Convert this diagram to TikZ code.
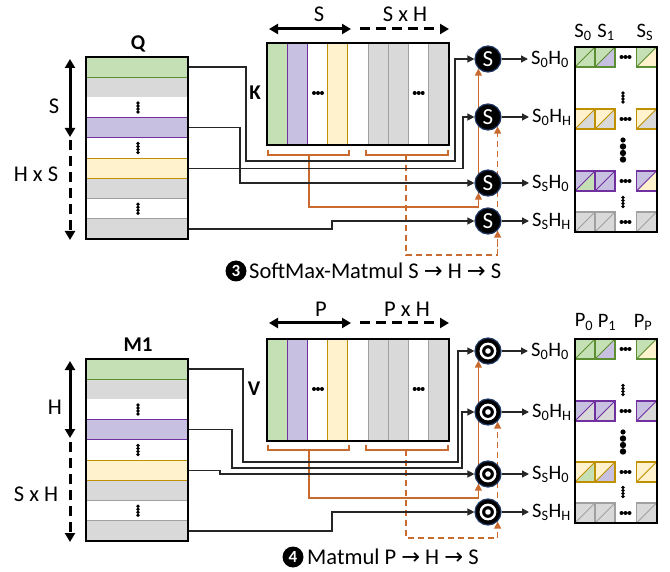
\documentclass[tikz,border=0pt]{standalone}
\usepackage{fontspec}
\setmainfont{Carlito}
\newfontfamily\djv{DejaVu Sans}
\usetikzlibrary{arrows.meta}
\pgfdeclarelayer{bg}
\pgfsetlayers{bg,main}
\definecolor{gfill}{HTML}{C5E0B4}
\definecolor{gline}{HTML}{5B8F32}
\definecolor{pfill}{HTML}{C8C0E0}
\definecolor{pline}{HTML}{7030A0}
\definecolor{yfill}{HTML}{FFF2CC}
\definecolor{yline}{HTML}{BF9000}
\definecolor{rfill}{HTML}{D9D9D9}
\definecolor{rline}{HTML}{A0A0A0}
\definecolor{orc}{HTML}{C96A2E}
\definecolor{navy}{HTML}{1F3864}
\newcommand\dotsV[2]{\fill (#1,#2-4.5) circle (1.9) (#1,#2-1.5) circle (1.9) (#1,#2+1.5) circle (1.9) (#1,#2+4.5) circle (1.9);}
\newcommand\dotsH[2]{\fill (#1-4,#2) circle (2) (#1,#2) circle (2) (#1+4,#2) circle (2);}
\newcommand\dotsB[2]{\fill (#1,#2-10) circle (2.6) (#1,#2-3.5) circle (3.2) (#1,#2+3) circle (3.2) (#1,#2+9.5) circle (3.2);}
\newcommand\gcell[5]{%
  \fill[#3] (#1,#2) -- (#1+20,#2) -- (#1,#2+20) -- cycle;
  \fill[#4] (#1+20,#2) -- (#1+20,#2+20) -- (#1,#2+20) -- cycle;
  \draw[#5,line width=0.8pt] (#1,#2+20) -- (#1+20,#2);
  \draw[#5,line width=1.5pt] (#1,#2) rectangle (#1+20,#2+20);}
\newcommand\grow[6]{%
  \gcell{575}{#1}{#3}{#4}{#2}\gcell{595}{#1}{#3}{#5}{#2}\gcell{636.5}{#1}{#3}{#6}{#2}
  \dotsH{625.5}{#1+10}}
\tikzset{
  rowbox/.style={rectangle,inner sep=0pt,outer sep=0pt,minimum width=102pt,minimum height=20.22pt,anchor=north west,line width=1pt},
  colbox/.style={rectangle,inner sep=0pt,outer sep=0pt,minimum width=20.22pt,minimum height=102pt,anchor=north west,line width=1pt},
  gr/.style={fill=gfill,draw=gline},
  pu/.style={fill=pfill,draw=pline},
  ye/.style={fill=yfill,draw=yline},
  gy/.style={fill=rfill,draw=rline},
  wh/.style={fill=white},
  mframe/.style={draw=black,line width=2.2pt},
  conn/.style={draw=black!85,line width=1.3pt},
  atip/.style={-{Triangle[length=7pt,width=7pt]}},
  orl/.style={draw=orc,line width=1.3pt},
  odash/.style={dash pattern=on 6pt off 4pt},
  dimline/.style={line width=3pt},
  ddash/.style={dash pattern=on 10pt off 6pt},
  dtip/.style={-{Triangle[length=9pt,width=10pt]}},
  dtips/.style={{Triangle[length=9pt,width=10pt]}-{Triangle[length=9pt,width=10pt]}},
  sc/.style={circle,fill=black,draw=navy,line width=1.2pt,minimum size=26pt,inner sep=0pt,text=white,font=\fontsize{23}{23}\selectfont},
  tc/.style={circle,fill=black,draw=navy,line width=1.2pt,minimum size=26pt,inner sep=0pt},
  lab/.style={font=\fontsize{22.5}{24}\selectfont,inner sep=0pt},
  blab/.style={font=\fontsize{21}{24}\selectfont\bfseries,inner sep=0pt},
  olab/.style={font=\fontsize{20.5}{22}\selectfont,inner sep=3pt,anchor=west},
  hdr/.style={font=\fontsize{20.5}{22}\selectfont,inner sep=0pt},
  numc/.style={circle,fill=black,text=white,minimum size=21pt,inner sep=0pt,font=\fontsize{17}{17}\selectfont\bfseries},
  captxt/.style={font=\fontsize{22.5}{24}\selectfont,inner sep=0pt,anchor=west},
}
\begin{document}
\begin{tikzpicture}[x=1pt,y=-1pt]
\useasboundingbox (0,0) rectangle (670,572);
%% ================= TOP PANEL =================
\node[rowbox,gy] (q2) at (86,77.22) {};
\node[rowbox,wh] (q3) at (86,97.44) {};
\node[rowbox,wh] (q5) at (86,137.89) {};
\node[rowbox,gy] (q7) at (86,178.33) {};
\node[rowbox,wh] (q8) at (86,198.56) {};
\node[rowbox,gy] (q9) at (86,218.78) {};
\node[rowbox,gr] (q1) at (86,57) {};
\node[rowbox,pu] (q4) at (86,117.67) {};
\node[rowbox,ye] (q6) at (86,158.11) {};
\draw[mframe] (q1.north west) rectangle (q9.south east);
\dotsV{138}{107.5}\dotsV{138}{148}\dotsV{138}{208.7}
\node[blab] (ql) at (138,44) {Q};
\node[lab] (sl) at (54,106) {S};
\node[lab] (hsl) at (36,174) {H x S};
\draw[dimline,dtips] (70,59) -- (70,137);
\draw[dimline,ddash,dtip] (70,140) -- (70,240);
% K matrix
\node[colbox,wh] (k3) at (307.44,43) {};
\node[colbox,wh] (k5) at (347.89,43) {};
\node[colbox,gy] (k6) at (368.11,43) {};
\node[colbox,gy] (k7) at (388.33,43) {};
\node[colbox,wh] (k8) at (408.56,43) {};
\node[colbox,gy] (k9) at (428.78,43) {};
\node[colbox,gr] (k1) at (267,43) {};
\node[colbox,pu] (k2) at (287.22,43) {};
\node[colbox,ye] (k4) at (327.67,43) {};
\draw[mframe] (k1.north west) rectangle (k9.south east);
\dotsH{318}{93}\dotsH{418.7}{93}
\node[blab] (kl) at (255,93) {K};
\node[lab] (ksl) at (319,14) {S};
\node[lab] (kshl) at (405,14) {S x H};
\draw[dimline,dtips] (269,29) -- (351,29);
\draw[dimline,ddash,dtip] (360,29) -- (449,29);
\draw[orl] (268,150) -- (268,155) -- (349,155) -- (349,150);
\draw[orl] (366,150) -- (366,155) -- (448,155) -- (448,150);
\coordinate (kb1) at (309,155);
\coordinate (kb2) at (406,155);
\coordinate (ko1) at (309,207);
\coordinate (kd1) at (406,255);
\node[sc] (s1) at (488,59) {S};
\node[sc] (s2) at (488,117) {S};
\node[sc] (s3) at (488,183) {S};
\node[sc] (s4) at (488,221) {S};
\node[olab] (o1) at (528,59) {S\textsubscript{0}H\textsubscript{0}};
\node[olab] (o2) at (529,117) {S\textsubscript{0}H\textsubscript{H}};
\node[olab] (o3) at (529,183) {S\textsubscript{S}H\textsubscript{0}};
\node[olab] (o4) at (529,221) {S\textsubscript{S}H\textsubscript{H}};
\foreach \a/\b in {s1/o1,s2/o2,s3/o3,s4/o4} \draw[conn,atip] (\a) -- (\b);
\begin{pgfonlayer}{bg}
\draw[orl,atip] (kb1) -- (ko1) -| (s1.south west);
\draw[orl,atip] (ko1 -| s3.south west) -- (s3.south west);
\draw[orl,odash,atip] (kb2) -- (kd1) -| (s2.south east);
\draw[orl,odash,atip] (kd1 -| s4.south east) -- (s4.south east);
\draw[conn,atip] (q1.east) -| (246,161) -| (455,59) -- (s1.west);
\draw[conn,atip] (q6.east) -| (463,117) -- (s2.west);
\draw[conn,atip] (q4.east) -| (240,183) -- (s3.west);
\draw[conn,atip] (q9.east) -| (332,221) -- (s4.west);
\end{pgfonlayer}
\grow{47}{gline}{gfill}{gfill}{pfill}{yfill}
\grow{109}{yline}{yfill}{rfill}{rfill}{rfill}
\grow{171}{pline}{pfill}{gfill}{pfill}{yfill}
\grow{212}{rline}{rfill}{rfill}{rfill}{rfill}
\draw[mframe] (575,47) rectangle (657,232);
\dotsV{623}{97.5}\dotsB{623}{150}\dotsV{623}{202}
\node[hdr] (h0) at (583,32) {S\textsubscript{0}};
\node[hdr] (h1) at (606,32) {S\textsubscript{1}};
\node[hdr] (h2) at (645,32) {S\textsubscript{S}};
\node[numc] (c3) at (236,271) {3};
\node[captxt] (cap3) at (249,271) {SoftMax-Matmul S {\djv →} H {\djv →} S};
%% ================= BOTTOM PANEL =================
\node[rowbox,gy] (m2) at (86,379.22) {};
\node[rowbox,wh] (m3) at (86,399.44) {};
\node[rowbox,wh] (m5) at (86,439.89) {};
\node[rowbox,gy] (m7) at (86,480.33) {};
\node[rowbox,wh] (m8) at (86,500.56) {};
\node[rowbox,gy] (m9) at (86,520.78) {};
\node[rowbox,gr] (m1) at (86,359) {};
\node[rowbox,pu] (m4) at (86,419.67) {};
\node[rowbox,ye] (m6) at (86,460.11) {};
\draw[mframe] (m1.north west) rectangle (m9.south east);
\dotsV{138}{409.5}\dotsV{138}{450}\dotsV{138}{510.7}
\node[blab] (ml) at (138,345) {M1};
\node[lab] (hl) at (55,407) {H};
\node[lab] (shl) at (36,494) {S x H};
\draw[dimline,dtips] (70,361) -- (70,438);
\draw[dimline,ddash,dtip] (70,442) -- (70,542);
\node[colbox,wh] (v3) at (307.44,339) {};
\node[colbox,wh] (v5) at (347.89,339) {};
\node[colbox,gy] (v6) at (368.11,339) {};
\node[colbox,gy] (v7) at (388.33,339) {};
\node[colbox,wh] (v8) at (408.56,339) {};
\node[colbox,gy] (v9) at (428.78,339) {};
\node[colbox,gr] (v1) at (267,339) {};
\node[colbox,pu] (v2) at (287.22,339) {};
\node[colbox,ye] (v4) at (327.67,339) {};
\draw[mframe] (v1.north west) rectangle (v9.south east);
\dotsH{318}{389}\dotsH{418.7}{389}
\node[blab] (vl) at (254,389) {V};
\node[lab] (pl) at (321,309) {P};
\node[lab] (phl) at (407,309) {P x H};
\draw[dimline,dtips] (269,323) -- (351,323);
\draw[dimline,ddash,dtip] (360,323) -- (449,323);
\draw[orl] (268,445) -- (268,450) -- (349,450) -- (349,445);
\draw[orl] (366,445) -- (366,450) -- (448,450) -- (448,445);
\coordinate (vb1) at (309,450);
\coordinate (vb2) at (406,450);
\coordinate (vo1) at (309,498);
\coordinate (vd1) at (406,538);
\node[tc] (t1) at (488,351) {};
\node[tc] (t2) at (488,412) {};
\node[tc] (t3) at (488,474) {};
\node[tc] (t4) at (488,512) {};
\foreach \n in {t1,t2,t3,t4} {\draw[white,line width=2.4pt] (\n) circle (7.2); \fill[white] (\n) circle (2.8);}
\node[olab] (p1) at (528,351) {S\textsubscript{0}H\textsubscript{0}};
\node[olab] (p2) at (529,412) {S\textsubscript{0}H\textsubscript{H}};
\node[olab] (p3) at (529,474) {S\textsubscript{S}H\textsubscript{0}};
\node[olab] (p4) at (529,512) {S\textsubscript{S}H\textsubscript{H}};
\foreach \a/\b in {t1/p1,t2/p2,t3/p3,t4/p4} \draw[conn,atip] (\a) -- (\b);
\begin{pgfonlayer}{bg}
\draw[orl,atip] (vb1) -- (vo1) -| (t1.south west);
\draw[orl,atip] (vo1 -| t3.south west) -- (t3.south west);
\draw[orl,odash,atip] (vb2) -- (vd1) -| (t2.south east);
\draw[orl,odash,atip] (vd1 -| t4.south east) -- (t4.south east);
\draw[conn,atip] (m1.east) -| (243,462) -| (458,351) -- (t1.west);
\draw[conn,atip] (m4.east) -| (232,468) -| (462,412) -- (t2.west);
\draw[conn,atip] (m6.east) -| (220,474) -- (t3.west);
\draw[conn,atip] (m9.east) -| (332,512) -- (t4.west);
\end{pgfonlayer}
\grow{339}{gline}{gfill}{gfill}{pfill}{yfill}
\grow{401}{pline}{pfill}{rfill}{rfill}{rfill}
\grow{462}{yline}{yfill}{gfill}{pfill}{yfill}
\grow{503}{rline}{rfill}{rfill}{rfill}{rfill}
\draw[mframe] (575,339) rectangle (657,523);
\dotsV{623}{390}\dotsB{623}{442}\dotsV{623}{492}
\node[hdr] (g0) at (584,322) {P\textsubscript{0}};
\node[hdr] (g1) at (607,322) {P\textsubscript{1}};
\node[hdr] (g2) at (643,322) {P\textsubscript{P}};
\node[numc] (c4) at (293,557) {4};
\node[captxt] (cap4) at (307,557) {Matmul P {\djv →} H {\djv →} S};
\end{tikzpicture}
\end{document}
